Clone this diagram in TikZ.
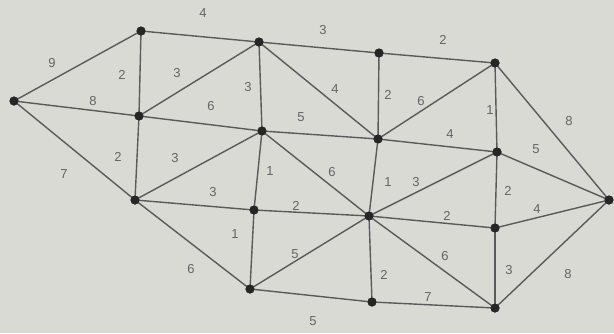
\documentclass[tikz,border=0pt]{standalone}
\usepackage{fontspec}
\setmainfont{Liberation Sans}
\definecolor{bgc}{RGB}{218,218,213}
\definecolor{edgec}{RGB}{90,90,90}
\definecolor{txtc}{RGB}{100,100,100}
\begin{document}
\begin{tikzpicture}[x=1pt,y=-1pt,
  vtx/.style={circle,fill=black!85,inner sep=0pt,minimum size=9pt},
  lnk/.style={draw=edgec,line width=1.4pt},
  lbl/.style={text=txtc,font=\fontsize{13}{13}\selectfont,inner sep=0pt}]
\fill[bgc] (0,0) rectangle (614,333);
\useasboundingbox (0,0) rectangle (614,333);
\node[vtx] (A) at (14,101) {};
\node[vtx] (B) at (141,31) {};
\node[vtx] (C) at (139,116) {};
\node[vtx] (D) at (135,200) {};
\node[vtx] (E) at (259,42) {};
\node[vtx] (F) at (262,131) {};
\node[vtx] (G) at (254,210) {};
\node[vtx] (H) at (250,289) {};
\node[vtx] (I) at (379,53) {};
\node[vtx] (J) at (378,139) {};
\node[vtx] (K) at (369,216) {};
\node[vtx] (L) at (372,302) {};
\node[vtx] (M) at (495,63) {};
\node[vtx] (N) at (497,152) {};
\node[vtx] (O) at (495,228) {};
\node[vtx] (P) at (495,308) {};
\node[vtx] (Q) at (609,200) {};
\foreach \a/\b in {A/B,A/C,A/D,B/E,B/C,C/E,E/I,I/M,C/F,F/J,E/F,E/J,I/J,J/M,M/N,M/Q,J/N,N/Q,C/D,D/F,F/G,F/K,J/K,K/N,N/O,D/G,G/K,K/O,O/Q,D/H,G/H,H/K,K/L,K/P,O/P,P/Q,H/L,L/P}
  \draw[lnk] (\a.center) -- (\b.center);
\foreach \n in {A,B,C,D,E,F,G,H,I,J,K,L,M,N,O,P,Q}
  \fill[black!85] (\n) circle (4.5pt);
\node[lbl] (l1) at (52,63) {9};
\node[lbl] (l2) at (203,13) {4};
\node[lbl] (l3) at (323,30) {3};
\node[lbl] (l4) at (443,40) {2};
\node[lbl] (l5) at (122,75) {2};
\node[lbl] (l6) at (177,73) {3};
\node[lbl] (l7) at (248,87) {3};
\node[lbl] (l8) at (335,89) {4};
\node[lbl] (l9) at (388,95) {2};
\node[lbl] (l10) at (421,101) {6};
\node[lbl] (l11) at (490,110) {1};
\node[lbl] (l12) at (569,121) {8};
\node[lbl] (l13) at (93,101) {8};
\node[lbl] (l14) at (211,106) {6};
\node[lbl] (l15) at (301,117) {5};
\node[lbl] (l16) at (450,134) {4};
\node[lbl] (l17) at (536,149) {5};
\node[lbl] (l18) at (64,174) {7};
\node[lbl] (l19) at (118,157) {2};
\node[lbl] (l20) at (175,158) {3};
\node[lbl] (l21) at (270,171) {1};
\node[lbl] (l22) at (332,172) {6};
\node[lbl] (l23) at (388,182) {1};
\node[lbl] (l24) at (416,182) {3};
\node[lbl] (l25) at (508,191) {2};
\node[lbl] (l26) at (213,192) {3};
\node[lbl] (l27) at (296,206) {2};
\node[lbl] (l28) at (447,216) {2};
\node[lbl] (l29) at (537,209) {4};
\node[lbl] (l30) at (235,234) {1};
\node[lbl] (l31) at (295,254) {5};
\node[lbl] (l32) at (191,269) {6};
\node[lbl] (l33) at (384,275) {2};
\node[lbl] (l34) at (445,256) {6};
\node[lbl] (l35) at (509,270) {3};
\node[lbl] (l36) at (568,274) {8};
\node[lbl] (l37) at (428,297) {7};
\node[lbl] (l38) at (313,321) {5};
\end{tikzpicture}
\end{document}
